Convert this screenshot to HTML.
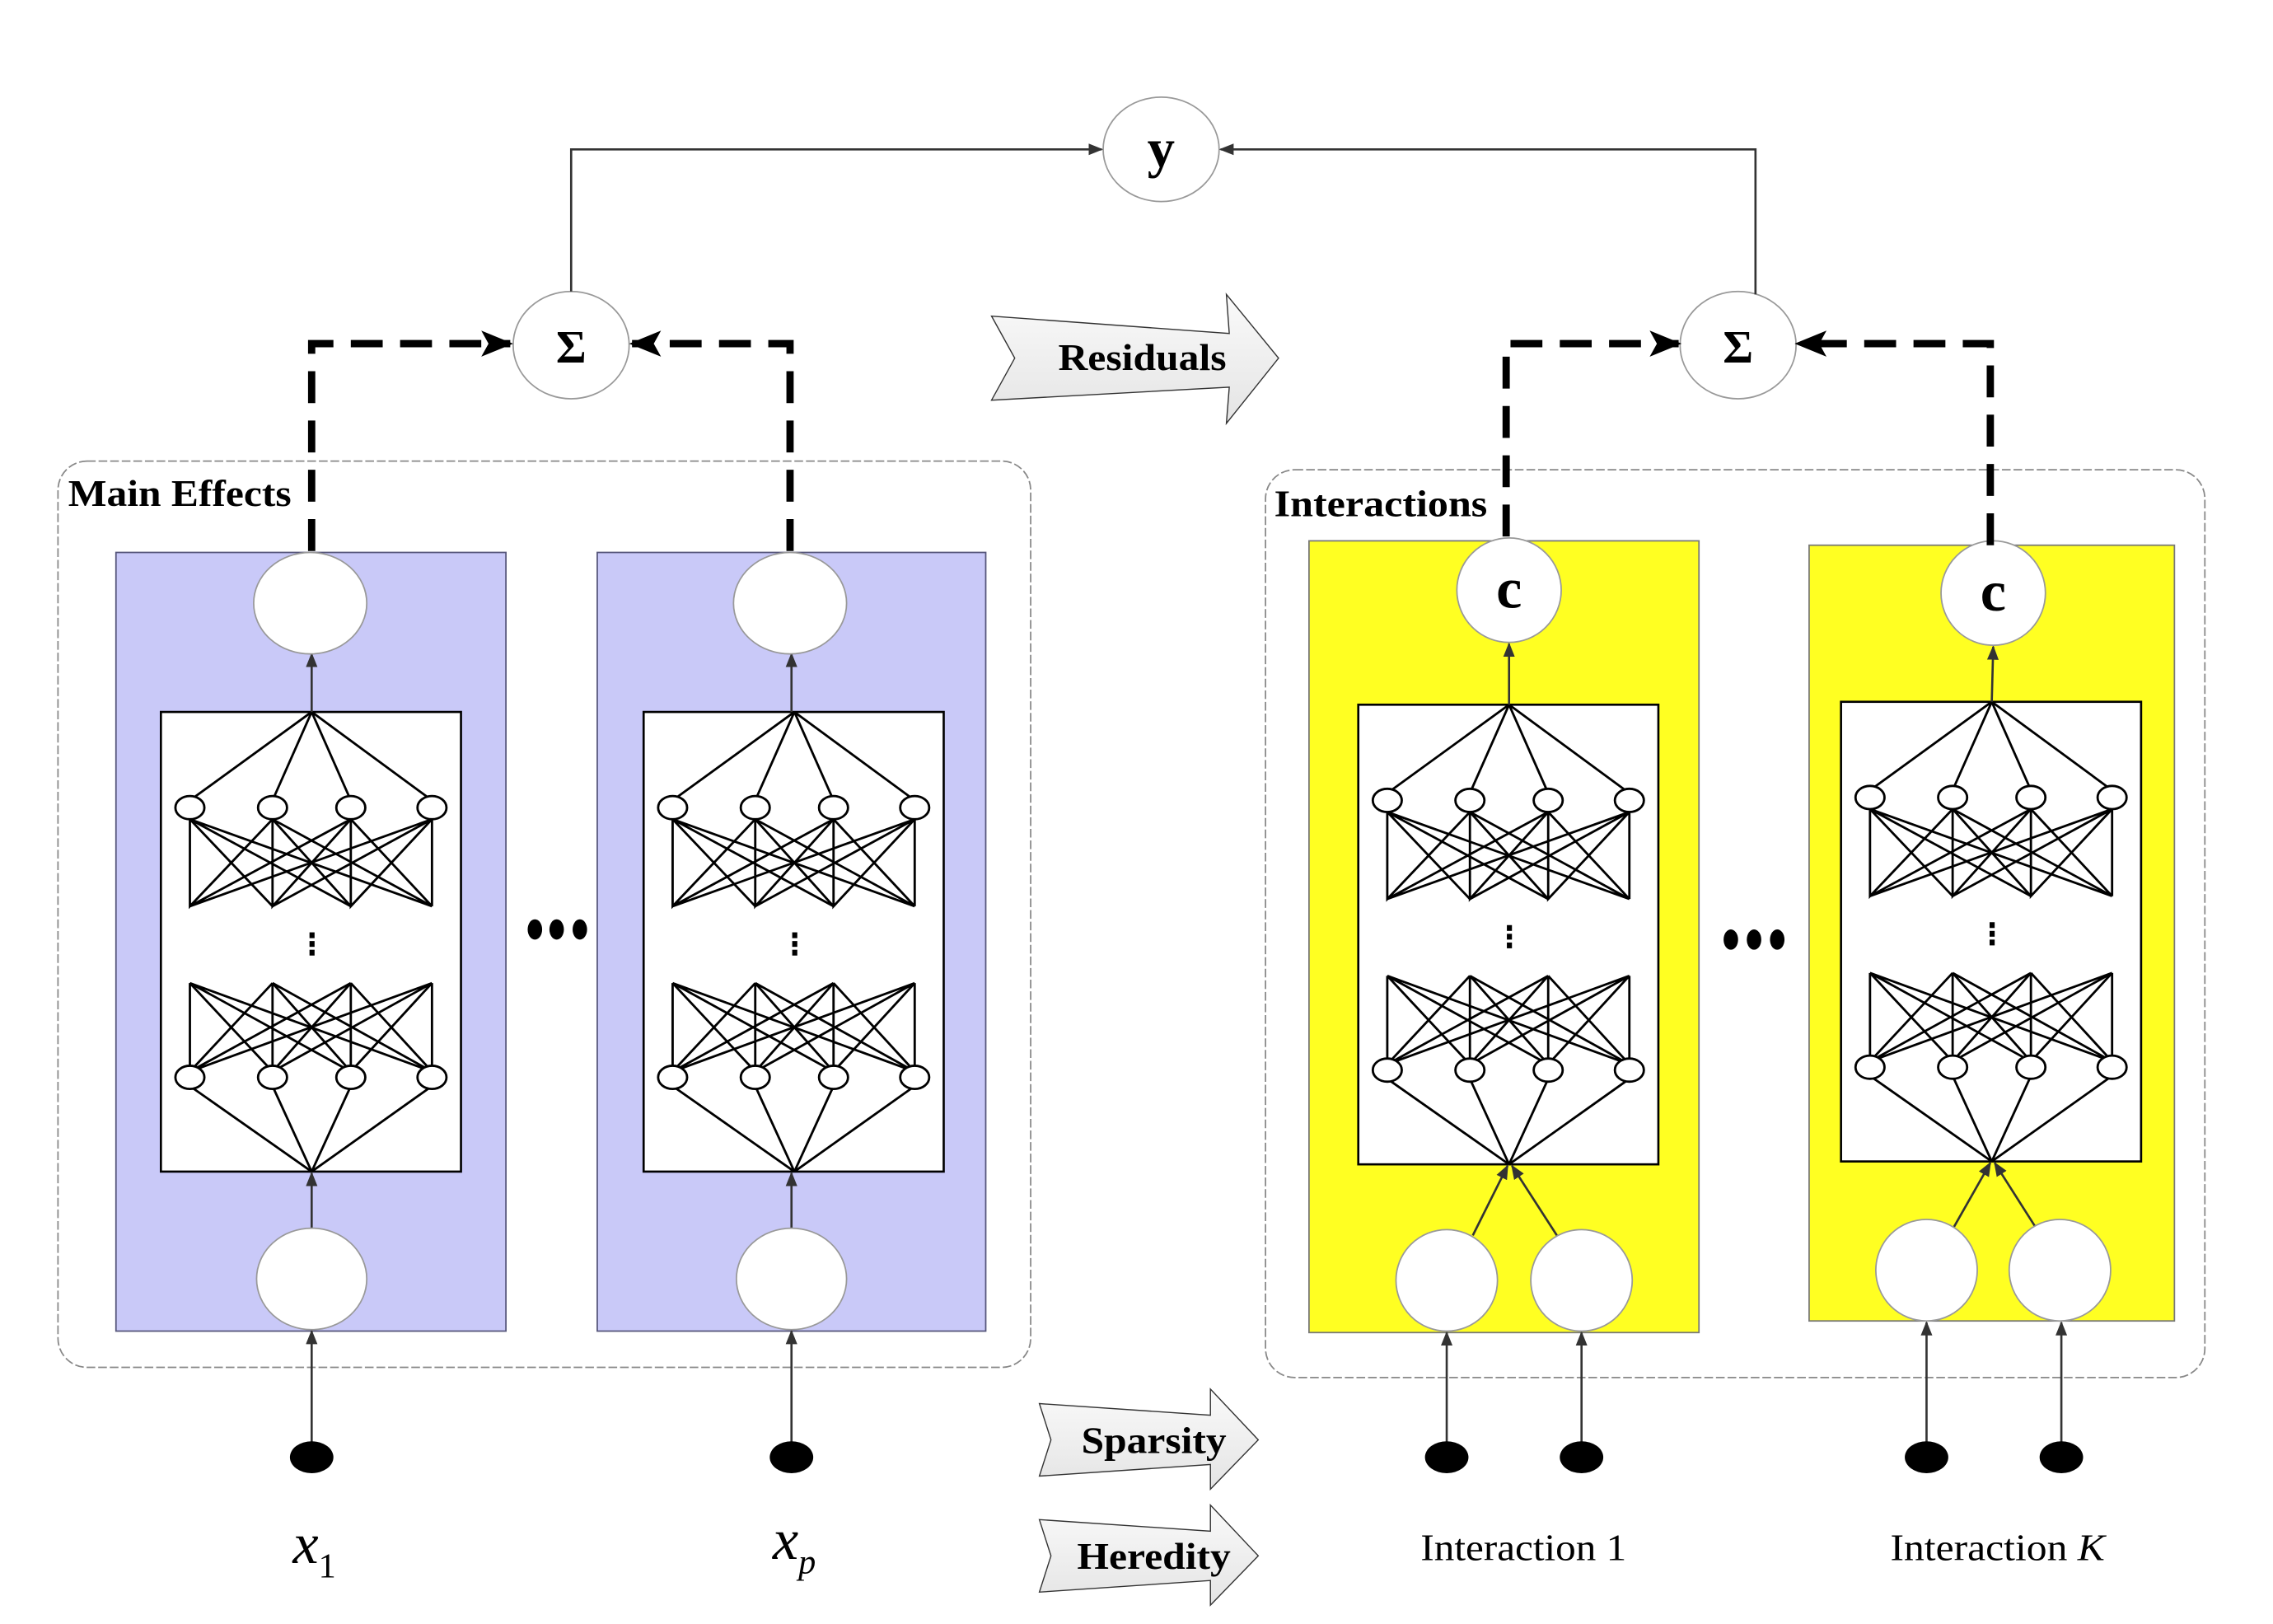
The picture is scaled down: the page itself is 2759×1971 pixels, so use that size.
<!DOCTYPE html>
<html><head><meta charset="utf-8"><style>
html,body{margin:0;padding:0;background:#fff;}
svg{display:block;}
text{font-family:"Liberation Serif",serif;}
</style></head><body>
<svg width="2759" height="1971" viewBox="0 0 1568 1120" preserveAspectRatio="none" xmlns="http://www.w3.org/2000/svg">
<defs>
<marker id="ah" markerWidth="10" markerHeight="8" refX="9" refY="4" orient="auto" markerUnits="userSpaceOnUse"><path d="M0,0 L10,4 L0,8 Z" fill="#333"/></marker>
<marker id="ahb" markerWidth="22" markerHeight="18" refX="20" refY="9" orient="auto" markerUnits="userSpaceOnUse"><path d="M0,0 L22,9 L0,18 L5,9 Z" fill="#000"/></marker>
<linearGradient id="ag" x1="0" y1="0" x2="0" y2="1"><stop offset="0" stop-color="#fafafa"/><stop offset="1" stop-color="#e4e4e4"/></linearGradient>
<g id="net" stroke="#000" stroke-width="1.6" fill="none">
<rect x="0" y="0" width="207" height="317" fill="#fff" stroke-width="1.5"/>
<path d="M104,0 L20,61 M104,0 L77,61 M104,0 L131,61 M104,0 L187,61"/>
<path d="M20,74 L20,134 L77,74 L77,134 L131,74 L131,134 L187,74 L187,134 M20,74 L77,134 M20,74 L131,134 M77,74 L20,134 M77,74 L131,134 M77,74 L187,134 M131,74 L20,134 M131,74 L77,134 M131,74 L187,134 M187,74 L20,134 M187,74 L77,134 M187,74 L131,134 M20,74 L187,134"/>
<path d="M20,187 L20,248 M77,187 L77,248 M131,187 L131,248 M187,187 L187,248 M20,187 L77,248 M20,187 L131,248 M77,187 L20,248 M77,187 L131,248 M77,187 L187,248 M131,187 L20,248 M131,187 L77,248 M131,187 L187,248 M187,187 L20,248 M187,187 L77,248 M187,187 L131,248 M20,187 L187,248"/>
<path d="M20,258 L104,317 M77,258 L104,317 M131,258 L104,317 M187,258 L104,317"/>
<g fill="#fff"><ellipse cx="20" cy="66" rx="10" ry="8"/><ellipse cx="77" cy="66" rx="10" ry="8"/><ellipse cx="131" cy="66" rx="10" ry="8"/><ellipse cx="187" cy="66" rx="10" ry="8"/>
<ellipse cx="20" cy="252" rx="10" ry="8"/><ellipse cx="77" cy="252" rx="10" ry="8"/><ellipse cx="131" cy="252" rx="10" ry="8"/><ellipse cx="187" cy="252" rx="10" ry="8"/></g>
<g fill="#000" stroke="none"><rect x="102.5" y="152" width="3.5" height="4"/><rect x="102.5" y="158" width="3.5" height="4"/><rect x="102.5" y="164" width="3.5" height="4"/></g>
</g>
</defs>

<rect x="40" y="318" width="671" height="625" rx="20" fill="none" stroke="#888" stroke-width="1" stroke-dasharray="6,2"/>
<rect x="873" y="324" width="648" height="626" rx="20" fill="none" stroke="#888" stroke-width="1" stroke-dasharray="6,2"/>

<rect x="80" y="381" width="269" height="537" fill="#c9c9f8" stroke="#55557a" stroke-width="1"/>
<rect x="412" y="381" width="268" height="537" fill="#c9c9f8" stroke="#55557a" stroke-width="1"/>
<rect x="903" y="373" width="269" height="546" fill="#ffff22" stroke="#777" stroke-width="1"/>
<rect x="1248" y="376" width="252" height="535" fill="#ffff22" stroke="#777" stroke-width="1"/>

<use href="#net" x="111" y="491"/>
<use href="#net" x="444" y="491"/>
<use href="#net" x="937" y="486"/>
<use href="#net" x="1270" y="484"/>

<g stroke="#333" stroke-width="1.5" marker-end="url(#ah)">
<line x1="215" y1="491" x2="215" y2="451"/>
<line x1="546" y1="491" x2="546" y2="451"/>
<line x1="1041" y1="486" x2="1041" y2="444"/>
<line x1="1374" y1="484" x2="1375" y2="446"/>
<line x1="215" y1="848" x2="215" y2="809"/>
<line x1="546" y1="848" x2="546" y2="809"/>
<line x1="1016" y1="852" x2="1040" y2="804"/>
<line x1="1074" y1="852" x2="1043" y2="804"/>
<line x1="1348" y1="846" x2="1373" y2="802"/>
<line x1="1404" y1="846" x2="1376" y2="802"/>
<line x1="215" y1="1000" x2="215" y2="918"/>
<line x1="546" y1="1000" x2="546" y2="918"/>
<line x1="998" y1="1000" x2="998" y2="919"/>
<line x1="1091" y1="1000" x2="1091" y2="919"/>
<line x1="1329" y1="1000" x2="1329" y2="912"/>
<line x1="1422" y1="1000" x2="1422" y2="912"/>
</g>

<g fill="#fff" stroke="#999" stroke-width="1">
<ellipse cx="214" cy="416" rx="39" ry="35"/>
<ellipse cx="545" cy="416" rx="39" ry="35"/>
<ellipse cx="215" cy="882" rx="38" ry="35"/>
<ellipse cx="546" cy="882" rx="38" ry="35"/>
<circle cx="1041" cy="407" r="36"/>
<circle cx="1375" cy="409" r="36"/>
<circle cx="998" cy="883" r="35"/>
<circle cx="1091" cy="883" r="35"/>
<circle cx="1329" cy="876" r="35"/>
<circle cx="1421" cy="876" r="35"/>
<ellipse cx="394" cy="238" rx="40" ry="37"/>
<ellipse cx="1199" cy="238" rx="40" ry="37"/>
<ellipse cx="801" cy="103" rx="40" ry="36"/>
</g>
<g font-weight="bold" text-anchor="middle" fill="#000">
<text x="1041" y="419" font-size="40">c</text>
<text x="1375" y="421" font-size="40">c</text>
<text x="394" y="250" font-size="32">Σ</text>
<text x="1199" y="250" font-size="32">Σ</text>
<text x="801" y="115" font-size="38">y</text>
</g>

<g fill="#000">
<ellipse cx="215" cy="1005" rx="15" ry="11"/><ellipse cx="546" cy="1005" rx="15" ry="11"/>
<ellipse cx="998" cy="1005" rx="15" ry="11"/><ellipse cx="1091" cy="1005" rx="15" ry="11"/>
<ellipse cx="1329" cy="1005" rx="15" ry="11"/><ellipse cx="1422" cy="1005" rx="15" ry="11"/>
<ellipse cx="369" cy="641" rx="5" ry="7"/><ellipse cx="384" cy="641" rx="5" ry="7"/><ellipse cx="400" cy="641" rx="5" ry="7"/>
<ellipse cx="1194" cy="648" rx="5" ry="7"/><ellipse cx="1210" cy="648" rx="5" ry="7"/><ellipse cx="1226" cy="648" rx="5" ry="7"/>
</g>

<g stroke="#000" stroke-width="5" fill="none" stroke-dasharray="22,12" marker-end="url(#ahb)">
<path d="M215,380 L215,237 L352,237"/>
<path d="M545,380 L545,237 L436,237"/>
<path d="M1039,370 L1039,237 L1158,237"/>
<path d="M1373,376 L1373,237 L1240,237"/>
</g>
<g stroke="#333" stroke-width="1.5" fill="none" marker-end="url(#ah)">
<path d="M394,201 L394,103 L760,103"/>
<path d="M1211,203 L1211,103 L842,103"/>
</g>

<g fill="url(#ag)" stroke="#333" stroke-width="0.8">
<path d="M684,218 L848,230 L846,203 L882,247 L846,292 L848,267 L684,276 L700,247 Z"/>
<path d="M717,968 L835,976 L835,958 L868,993 L835,1027 L835,1010 L717,1018 L725,993 Z"/>
<path d="M717,1048 L835,1056 L835,1038 L868,1073 L835,1107 L835,1090 L717,1098 L725,1073 Z"/>
</g>
<g font-weight="bold" fill="#000" font-size="26" lengthAdjust="spacingAndGlyphs">
<text x="730" y="255" textLength="116" lengthAdjust="spacingAndGlyphs">Residuals</text>
<text x="746" y="1002" textLength="100" lengthAdjust="spacingAndGlyphs">Sparsity</text>
<text x="743" y="1082" textLength="106" lengthAdjust="spacingAndGlyphs">Heredity</text>
<text x="47" y="349" textLength="154" lengthAdjust="spacingAndGlyphs">Main Effects</text>
<text x="879" y="356" textLength="147" lengthAdjust="spacingAndGlyphs">Interactions</text>
</g>
<g fill="#000">
<text x="202" y="1078" font-size="40" font-style="italic">x<tspan font-size="24" font-style="normal" dy="10">1</tspan></text>
<text x="533" y="1075" font-size="40" font-style="italic">x<tspan font-size="24" dy="10">p</tspan></text>
<text x="980" y="1076" font-size="26" textLength="142" lengthAdjust="spacingAndGlyphs">Interaction 1</text>
<text x="1304" y="1076" font-size="26" textLength="148" lengthAdjust="spacingAndGlyphs">Interaction <tspan font-style="italic">K</tspan></text>
</g>
</svg>
</body></html>
